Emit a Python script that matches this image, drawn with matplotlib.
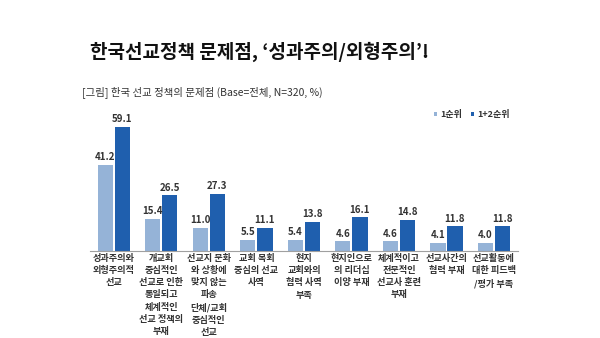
import matplotlib
matplotlib.use("Agg")
import matplotlib.pyplot as plt
import numpy as np

plt.rcParams['font.family'] = ['Noto Sans CJK KR', 'DejaVu Sans']

categories = [
    "성과주의와\n외형주의적\n선교",
    "개교회\n중심적인\n선교로 인한\n통일되고\n체계적인\n선교 정책의\n부재",
    "선교지 문화\n와 상황에\n맞지 않는\n파송\n단체/교회\n중심적인\n선교",
    "교회 목회\n중심의 선교\n사역",
    "현지\n교회와의\n협력 사역\n부족",
    "현지인으로\n의 리더십\n이양 부재",
    "체계적이고\n전문적인\n선교사 훈련\n부재",
    "선교사간의\n협력 부재",
    "선교활동에\n대한 피드백\n/평가 부족",
]
rank1 = [41.2, 15.4, 11.0, 5.5, 5.4, 4.6, 4.6, 4.1, 4.0]
rank12 = [59.1, 26.5, 27.3, 11.1, 13.8, 16.1, 14.8, 11.8, 11.8]
series_names = ["1순위", "1+2순위"]

c_light = "#95B3D7"
c_dark = "#1F5FAE"
txt = "#333333"

fig = plt.figure(figsize=(6, 3.38), dpi=100)
ax = fig.add_axes([0.15, 0.257, 0.713, 0.404])

x = np.arange(len(categories))
w = 0.32
off = 0.18
b1 = ax.bar(x - off, rank1, w, color=c_light, label=series_names[0])
b2 = ax.bar(x + off, rank12, w, color=c_dark, label=series_names[1])

for bars, vals in ((b1, rank1), (b2, rank12)):
    for r, v in zip(bars, vals):
        ax.annotate(f"{v:.1f}", (r.get_x() + r.get_width() / 2, v),
                    xytext=(0, 2), textcoords="offset points",
                    ha="center", va="bottom", fontsize=7, fontweight="bold", color=txt)

ax.set_xlim(-0.5, len(categories) - 0.5)
ax.set_ylim(0, 65)
ax.set_yticks([])
ax.set_xticks(x)
ax.set_xticklabels(categories, fontsize=6.6, fontweight="bold", color=txt, linespacing=1.45)
ax.tick_params(axis="x", length=0, pad=2)
for s in ["top", "right", "left"]:
    ax.spines[s].set_visible(False)
ax.spines["bottom"].set_color("#A0A0A0")
ax.spines["bottom"].set_linewidth(0.8)

leg = ax.legend(loc="center right", bbox_to_anchor=(1.0, 1.0), ncol=2, frameon=False,
                handlelength=0.4, handleheight=0.4, handletextpad=0.3,
                columnspacing=1.0, prop={'weight': 'bold', 'size': 6.5})
for t in leg.get_texts():
    t.set_color(txt)

fig.text(0.15, 0.848, "한국선교정책 문제점, ‘성과주의/외형주의’!", fontsize=13.7,
         fontweight="bold", color="#111111", ha="left", va="center")
fig.text(0.137, 0.727, "[그림] 한국 선교 정책의 문제점 (Base=전체, N=320, %)", fontsize=7.5,
         color=txt, ha="left", va="center")

fig.savefig("out.png", dpi=100)
